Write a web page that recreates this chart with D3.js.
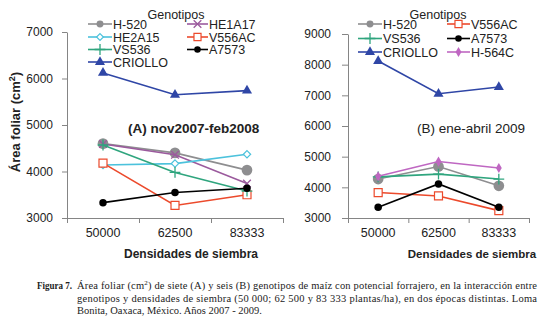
<!DOCTYPE html>
<html>
<head>
<meta charset="utf-8">
<script src="https://cdn.jsdelivr.net/npm/d3@7"></script>
<style>
  body { margin: 0; background: #fff; }
  svg text { font-family: "Liberation Sans", Arial, sans-serif; fill: #222; }
  .axis path, .axis line { stroke: #858585; }
  .caption text { font-family: "Liberation Serif", "Times New Roman", serif; fill: #222; }
</style>
</head>
<body>
<svg id="chart" width="547" height="323"></svg>
<script>
// densidades de siembra (categorias del eje x)
const densidades = ["50000", "62500", "83333"];

// (A) nov2007-feb2008
const genotiposA = ["H-520", "HE1A17", "HE2A15", "V556AC", "VS536", "A7573", "CRIOLLO"];
const aH520    = [4600, 4400, 4030];
const aHE1A17  = [4590, 4360, 3740];
const aHE2A15  = [4140, 4170, 4370];
const aV556AC  = [4180, 3270, 3500];
const aVS536   = [4570, 3980, 3580];
const aA7573   = [3330, 3550, 3640];
const aCRIOLLO = [6120, 5650, 5740];
const ticksA   = [3000, 4000, 5000, 6000, 7000];

// (B) ene-abril 2009
const genotiposB = ["H-520", "V556AC", "VS536", "A7573", "CRIOLLO", "H-564C"];
const bH520    = [4270, 4680, 4050];
const bV556AC  = [3830, 3720, 3240];
const bVS536   = [4340, 4430, 4270];
const bA7573   = [3350, 4110, 3350];
const bCRIOLLO = [8120, 7050, 7270];
const bH564C   = [4360, 4840, 4630];
const ticksB   = [3000, 4000, 5000, 6000, 7000, 8000, 9000];

const seriesA = [aH520, aHE1A17, aHE2A15, aV556AC, aVS536, aA7573, aCRIOLLO];
const seriesB = [bH520, bV556AC, bVS536, bA7573, bCRIOLLO, bH564C];

// estilo de cada genotipo
const estilo = {
  "H-520":   { color: "#8e8e90", sym: d3.symbolCircle,   size: 90, lsize: 38, fill: true },
  "HE1A17":  { color: "#9b5a9d", sym: d3.symbolTimes,    size: 40, lsize: 40, fill: false },
  "HE2A15":  { color: "#4cc2dc", sym: d3.symbolDiamond2, size: 34, lsize: 30, fill: false, open: true },
  "V556AC":  { color: "#ec4a2c", sym: d3.symbolSquare,   size: 64, lsize: 50, fill: false, open: true },
  "VS536":   { color: "#2fa57e", sym: d3.symbolPlus,     size: 40, lsize: 40, fill: false },
  "A7573":   { color: "#000000", sym: d3.symbolCircle,   size: 44, lsize: 34, fill: true },
  "CRIOLLO": { color: "#2f46a6", sym: d3.symbolTriangle, size: 44, lsize: 44, fill: true },
  "H-564C":  { color: "#bf67c2", sym: d3.symbolDiamond,  size: 30, lsize: 30, fill: true }
};

const svg = d3.select("#chart");

function marker(g, name, x, y, leg) {
  const s = estilo[name];
  const p = g.append("path")
    .attr("d", d3.symbol(s.sym, leg ? s.lsize : s.size)())
    .attr("transform", `translate(${x},${y})`);
  if (s.fill) p.attr("fill", s.color).attr("stroke", "none");
  else if (s.open) p.attr("fill", "#fff").attr("stroke", s.color).attr("stroke-width", 1.2);
  else p.attr("fill", "none").attr("stroke", s.color).attr("stroke-width", 1.3);
}

function panel(cfg) {
  const g = svg.append("g");

  const x = d3.scaleBand().domain(densidades).range([cfg.x0, cfg.x1]);
  const xEdge = d3.scaleLinear().domain([0, 3]).range([cfg.x0, cfg.x1]);
  const y = d3.scaleLinear().domain(cfg.yDomain).range([218, cfg.yTop]);

  // eje y
  g.append("g").attr("class", "axis")
    .attr("transform", `translate(${cfg.x0},0)`)
    .call(d3.axisLeft(y).tickValues(cfg.ticks).tickFormat(d3.format("d"))
      .tickSize(cfg.tickY).tickSizeOuter(0).tickPadding(cfg.padY))
    .call(a => a.selectAll("text").style("font-size", "12px").attr("fill", "#222"));

  // eje x: marcas entre categorias
  g.append("g").attr("class", "axis")
    .attr("transform", "translate(0,218)")
    .call(d3.axisBottom(xEdge).tickValues([0, 1, 2, 3]).tickSize(5).tickSizeOuter(0).tickFormat(""));
  g.append("g").attr("class", "axis")
    .attr("transform", "translate(0,218)")
    .call(d3.axisBottom(x).tickSize(0).tickPadding(10))
    .call(a => a.select(".domain").remove())
    .call(a => a.selectAll("text").style("font-size", "12.5px").attr("fill", "#222"));

  const line = d3.line().x((d, i) => x(densidades[i]) + x.bandwidth() / 2).y(d => y(d));

  cfg.names.forEach((name, k) => {
    const vals = cfg.series[k];
    g.append("path").datum(vals)
      .attr("d", line)
      .attr("fill", "none")
      .attr("stroke", estilo[name].color)
      .attr("stroke-width", 1.6);
    vals.forEach((v, i) => marker(g, name, x(densidades[i]) + x.bandwidth() / 2, y(v), false));
  });

  // leyenda
  g.append("text").attr("x", cfg.legTitle).attr("y", 18.5)
    .attr("text-anchor", "middle").style("font-size", "12.5px").text("Genotipos");
  cfg.legend.forEach(l => {
    const s = estilo[l.name];
    g.append("line").attr("x1", l.x).attr("x2", l.x + l.w)
      .attr("y1", l.y).attr("y2", l.y)
      .attr("stroke", s.color).attr("stroke-width", 1.6);
    marker(g, l.name, l.x + l.w / 2, l.y, true);
    g.append("text").attr("x", l.x + l.w + 1).attr("y", l.y + 4.5)
      .style("font-size", "12.5px").text(l.name);
  });

  // rotulos
  g.append("text").attr("x", cfg.tagX).attr("y", 133)
    .style("font-size", "13.5px").style("font-weight", cfg.tagBold ? "bold" : "normal")
    .text(cfg.tag);
  g.append("text").attr("x", cfg.xLabX).attr("y", 258)
    .attr("text-anchor", "middle")
    .style("font-size", cfg.xLabSize).style("font-weight", "bold")
    .text("Densidades de siembra");
}

panel({
  x0: 67, x1: 283, yTop: 32, yDomain: [3000, 7000], ticks: ticksA, tickY: 5, padY: 9,
  names: genotiposA, series: seriesA,
  legTitle: 176,
  legend: [
    { name: "H-520",   x: 88,  w: 24, y: 24 },
    { name: "HE2A15",  x: 88,  w: 24, y: 37 },
    { name: "VS536",   x: 88,  w: 24, y: 49.5 },
    { name: "CRIOLLO", x: 88,  w: 24, y: 62 },
    { name: "HE1A17",  x: 187, w: 21, y: 24 },
    { name: "V556AC",  x: 187, w: 21, y: 37 },
    { name: "A7573",   x: 187, w: 21, y: 49.5 }
  ],
  tag: "(A) nov2007-feb2008", tagX: 128, tagBold: true,
  xLabX: 191, xLabSize: "12px"
});

panel({
  x0: 348, x1: 529, yTop: 34, yDomain: [3000, 9000], ticks: ticksB, tickY: 6, padY: 11,
  names: genotiposB, series: seriesB,
  legTitle: 438,
  legend: [
    { name: "H-520",   x: 358, w: 24, y: 24 },
    { name: "VS536",   x: 358, w: 24, y: 38.5 },
    { name: "CRIOLLO", x: 358, w: 24, y: 52 },
    { name: "V556AC",  x: 447, w: 23, y: 24 },
    { name: "A7573",   x: 447, w: 23, y: 38.5 },
    { name: "H-564C",  x: 447, w: 23, y: 52 }
  ],
  tag: "(B) ene-abril 2009", tagX: 417, tagBold: false,
  xLabX: 472, xLabSize: "11.5px"
});

// titulo del eje y
const yl = svg.append("text")
  .attr("transform", "translate(20,122) rotate(-90)")
  .attr("text-anchor", "middle")
  .style("font-size", "13px").style("font-weight", "bold");
yl.append("tspan").text("Área foliar (cm");
yl.append("tspan").attr("dy", -5).style("font-size", "9px").text("2");
yl.append("tspan").attr("dy", 5).text(")");

// pie de figura
const cap = svg.append("g").attr("class", "caption");
cap.append("text").attr("x", 37).attr("y", 289)
  .style("font-size", "10px").style("font-weight", "bold")
  .attr("textLength", 35).attr("lengthAdjust", "spacingAndGlyphs").text("Figura 7.");
const l1 = cap.append("text").attr("x", 77).attr("y", 289).style("font-size", "10.5px")
  .attr("textLength", 460).attr("lengthAdjust", "spacing");
l1.append("tspan").text("Área foliar (cm");
l1.append("tspan").attr("dy", -4).style("font-size", "7px").text("2");
l1.append("tspan").attr("dy", 4).text(") de siete (A) y seis (B) genotipos de maíz con potencial forrajero, en la interacción entre");
cap.append("text").attr("x", 77).attr("y", 301.5).style("font-size", "10.5px")
  .attr("textLength", 460).attr("lengthAdjust", "spacing")
  .text("genotipos y densidades de siembra (50 000; 62 500 y 83 333 plantas/ha), en dos épocas distintas. Loma");
cap.append("text").attr("x", 77).attr("y", 314).style("font-size", "10.5px")
  .text("Bonita, Oaxaca, México. Años 2007 - 2009.");
</script>
</body>
</html>
